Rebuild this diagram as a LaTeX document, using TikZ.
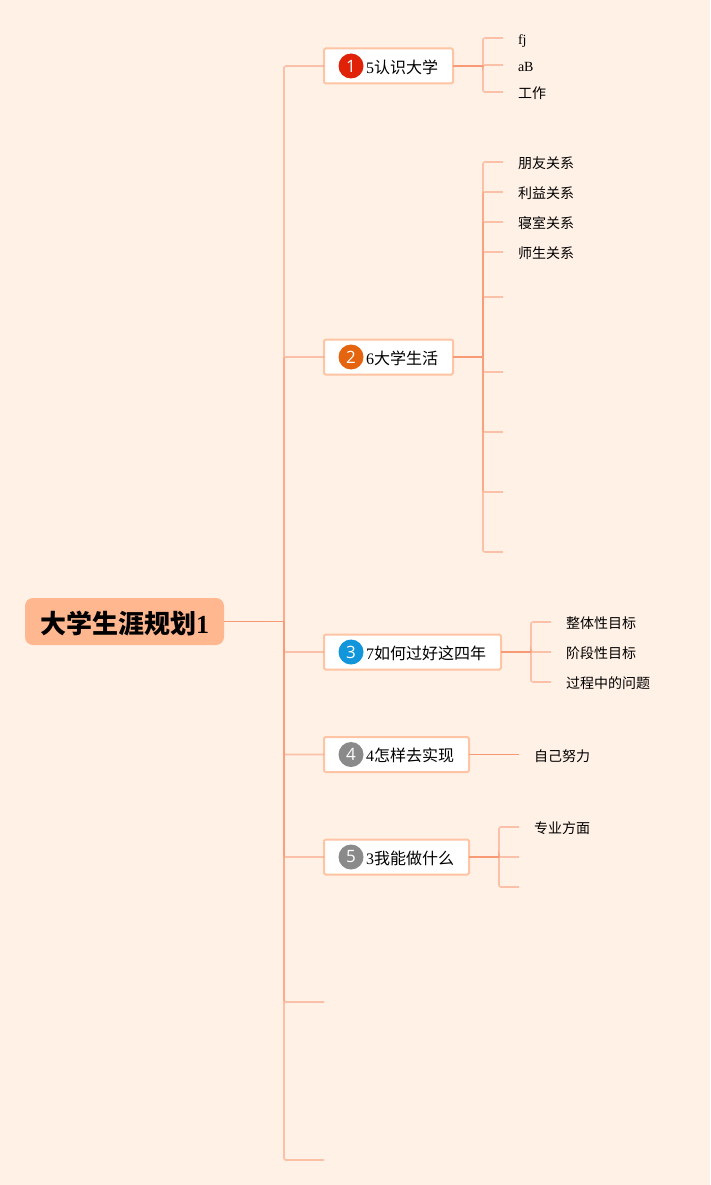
\documentclass[tikz,border=0pt]{standalone}
\usepackage{fontspec}
\setmainfont{Liberation Serif}
\newfontfamily\cjk{Noto Sans CJK SC}
\newfontfamily\badgefont{Open Sans}
\usepackage{tikz}
\definecolor{paper}{HTML}{FFF1E6}
\definecolor{rootfill}{HTML}{FFB78F}
\definecolor{limbcol}{HTML}{F99A76}
\definecolor{boxline}{HTML}{FFC4A3}
\definecolor{numred}{HTML}{E02208}
\definecolor{numorange}{HTML}{E5640F}
\definecolor{numblue}{HTML}{1296DB}
\definecolor{numgrey}{HTML}{8A8A8A}
\newcommand{\zh}[1]{{\cjk #1}}
\tikzset{
	root/.style={fill=rootfill,rounded corners=8pt,anchor=west,minimum width=199pt,minimum height=47pt,inner sep=0pt,outer sep=0pt,text height=25pt,text depth=2pt,font=\fontsize{26}{28}\selectfont\bfseries},
	branch/.style={draw=boxline,fill=white,line width=2pt,rounded corners=1.5pt,anchor=west,minimum height=35pt,inner ysep=0pt,inner xsep=15pt,outer sep=0pt,text height=16pt,text depth=1.4pt,font=\fontsize{16}{18}\selectfont},
	badge/.style={circle,minimum size=25pt,inner sep=0pt,text=white,font=\fontsize{17}{18}\selectfont\badgefont},
	leaf/.style={anchor=west,inner xsep=15pt,inner ysep=0pt,outer sep=0pt,text height=14pt,text depth=1pt,font=\fontsize{14}{16}\selectfont},
	limb/.style={draw=limbcol,line width=1.6pt,opacity=0.55,rounded corners=2pt},
	thinlimb/.style={draw=limbcol,line width=1.1pt},
}
\begin{document}
\begin{tikzpicture}[x=1pt,y=-1pt]
	\useasboundingbox (0,0) rectangle (710,1185);
	% background
	\fill[paper] (0,0) rectangle (710,1185);
	% hubs on the trunk and the brackets
	\coordinate (trunk) at (284,621.5);
	\coordinate (hubA) at (483,66);
	\coordinate (hubB) at (483,357);
	\coordinate (hubC) at (531,652);
	\coordinate (hubE) at (499,857);
	% two stubs without a box
	\coordinate (stubF) at (324,1002);
	\coordinate (stubG) at (324,1160);
	% empty twigs
	\coordinate (twigB5) at (503,297);
	\coordinate (twigB6) at (503,372);
	\coordinate (twigB7) at (503,432);
	\coordinate (twigB8) at (503,492);
	\coordinate (twigB9) at (503,552);
	\coordinate (twigE2) at (519,857);
	\coordinate (twigE3) at (519,887);
	% central topic
	\node[root] (centre) at (25,621.5) {\zh{大学生涯规划}1};
	% branches
	\node[branch] (brA) at (324,66) {\hspace*{27pt}5\zh{认识大学}};
	\node[branch] (brB) at (324,357) {\hspace*{27pt}6\zh{大学生活}};
	\node[branch] (brC) at (324,652) {\hspace*{27pt}7\zh{如何过好这四年}};
	\node[branch] (brD) at (324,754.5) {\hspace*{27pt}4\zh{怎样去实现}};
	\node[branch] (brE) at (324,857) {\hspace*{27pt}3\zh{我能做什么}};
	% badges
	\node[badge,fill=numred] (numA) at (351,66) {1};
	\node[badge,fill=numorange] (numB) at (351,357) {2};
	\node[badge,fill=numblue] (numC) at (351,652) {3};
	\node[badge,fill=numgrey] (numD) at (351,754.5) {4};
	\node[badge,fill=numgrey] (numE) at (351,857) {5};
	% leaves
	\node[leaf] (lfA1) at (503,38) {fj};
	\node[leaf] (lfA2) at (503,65) {aB};
	\node[leaf] (lfA3) at (503,92) {\zh{工作}};
	\node[leaf] (lfB1) at (503,162) {\zh{朋友关系}};
	\node[leaf] (lfB2) at (503,192) {\zh{利益关系}};
	\node[leaf] (lfB3) at (503,222) {\zh{寝室关系}};
	\node[leaf] (lfB4) at (503,252) {\zh{师生关系}};
	\node[leaf] (lfC1) at (551,622) {\zh{整体性目标}};
	\node[leaf] (lfC2) at (551,652) {\zh{阶段性目标}};
	\node[leaf] (lfC3) at (551,682) {\zh{过程中的问题}};
	\node[leaf] (lfD1) at (519,754.5) {\zh{自己努力}};
	\node[leaf] (lfE1) at (519,827) {\zh{专业方面}};
	% trunk
	\draw[thinlimb] (centre.east) -- (trunk);
	\foreach \n in {brA,brB,brC,brD,brE,stubF,stubG}
		\draw[limb] (trunk) |- (\n.west);
	% brackets
	\draw[thinlimb] (brA.east) -- (hubA);
	\draw[thinlimb] (brB.east) -- (hubB);
	\draw[thinlimb] (brC.east) -- (hubC);
	\draw[thinlimb] (brD.east) -- (lfD1.west);
	\draw[thinlimb] (brE.east) -- (hubE);
	\foreach \n in {lfA1,lfA2,lfA3}
		\draw[limb] (hubA) |- (\n.west);
	\foreach \n in {lfB1,lfB2,lfB3,lfB4,twigB5,twigB6,twigB7,twigB8,twigB9}
		\draw[limb] (hubB) |- (\n.west);
	\foreach \n in {lfC1,lfC2,lfC3}
		\draw[limb] (hubC) |- (\n.west);
	\foreach \n in {lfE1,twigE2,twigE3}
		\draw[limb] (hubE) |- (\n.west);
\end{tikzpicture}
\end{document}
